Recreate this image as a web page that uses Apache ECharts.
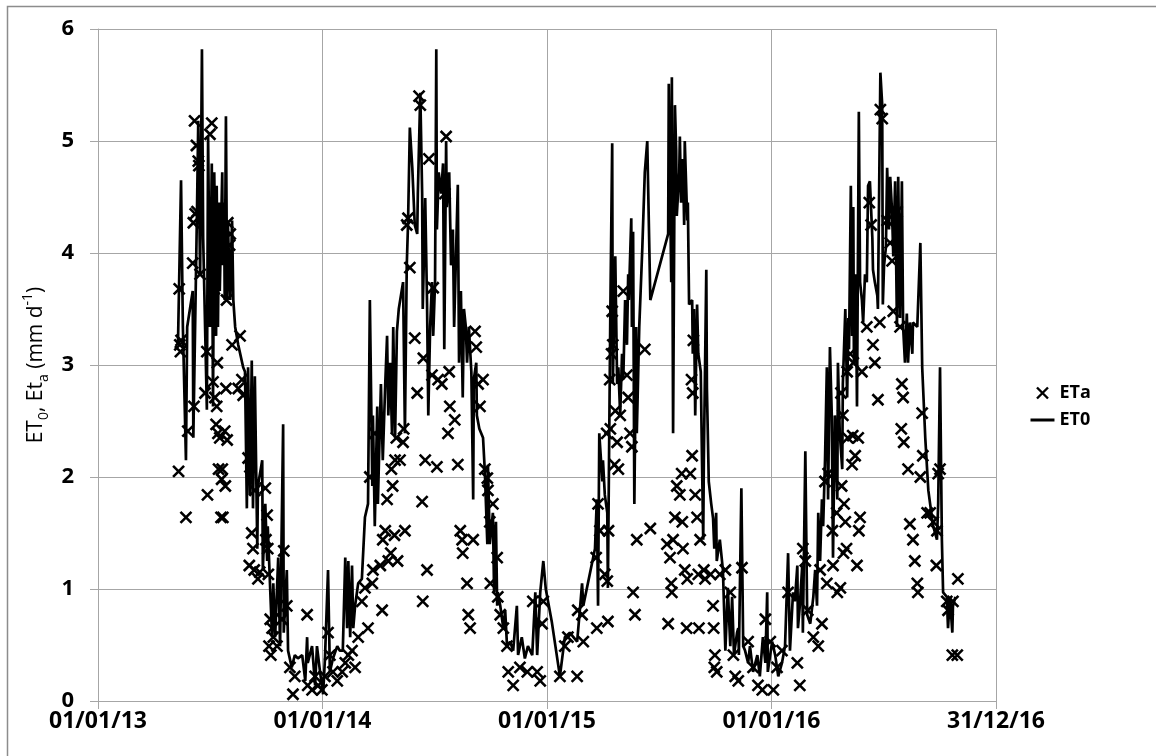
<!DOCTYPE html>
<html>
<head>
<meta charset="utf-8">
<script src="https://cdn.jsdelivr.net/npm/echarts@6/dist/echarts.min.js"></script>
<style>
  html, body { margin: 0; padding: 0; background: #fff; }
  #chart { width: 1156px; height: 756px; }
</style>
</head>
<body>
<div id="chart"></div>
<script>
// x values are days counted from 01/01/13
const xTicks = [0, 365, 730, 1095, 1460];
const yTicks = [0, 1, 2, 3, 4, 5, 6];

// ET0 (line)
const et0Days = [
  130,135,138,143,145,154,155,161,163,166,169,171,177,179,182,185,187,189,192,193,195,197,198,202,203,205,206,208,210,211,215,218,220,223,228,236,239,242,244,247,250,252,255,259,260,
  267,268,272,275,276,283,285,288,293,296,301,302,307,309,315,320,325,332,337,340,341,348,353,356,361,366,369,374,377,382,389,393,398,402,405,407,410,413,415,418,423,429,434,439,
  442,446,447,450,454,455,460,463,467,470,472,475,478,480,483,486,489,496,499,502,504,507,511,515,519,520,524,527,528,532,535,537,540,543,545,548,550,551,554,558,561,563,566,567,
  571,574,577,579,582,585,587,590,593,595,598,600,603,607,610,611,615,616,620,626,629,633,634,637,642,644,647,649,650,654,659,662,665,670,675,681,683,689,694,699,706,711,714,719,724,728,738,
  751,759,767,779,784,787,789,808,811,813,815,820,821,824,828,829,833,836,837,841,844,846,849,852,854,857,860,862,863,867,868,870,872,875,876,880,885,889,893,898,
  927,928,932,933,935,938,940,941,945,946,948,951,953,954,958,959,961,966,967,969,971,974,976,980,982,984,985,989,990,993,997,1000,1002,1005,1006,1011,1016,1020,1024,1028,1031,1034,1039,1041,1042,1046,
  1049,1052,1057,1060,1065,1072,1076,1081,1085,1088,1089,1096,1101,1106,1112,1117,1122,1125,1130,1133,1137,1138,1141,1145,1146,1150,1153,1158,1163,1166,1169,1171,1174,1177,1179,1182,1185,1187,1190,
  1193,1195,1198,1202,1203,1206,1210,1211,1215,1218,1220,1221,1224,1226,1228,1229,1232,1234,1237,1239,1242,1244,1247,1250,1252,1255,1259,1260,1263,1267,1268,1272,1275,1276,1278,1281,1283,1286,1288,
  1291,1293,1296,1299,1301,1304,1307,1309,1312,1315,1317,1320,1324,1325,1332,1337,1340,1345,1350,1356,1358,1364,1366,1369,1372,1374,1380,1382,1385,1389,1390,1394
];
const et0Values = [
  3.18,4.65,3.34,2.15,3.34,3.66,2.35,4.4,5.18,3.8,5.82,4.13,2.6,5.04,3.34,4.8,2.63,4.72,3.26,4.6,3.34,4.45,3.66,4.72,3.89,4.45,3.58,5.22,3.58,4.29,3.58,4.29,3.58,3.34,3.18,2.98,2.94,1.72,2.98,1.84,3.04,1.72,2.9,1.36,1.92,
  2.15,1.17,1.76,1.25,1.56,0.57,1.05,0.57,1.28,0.49,2.47,0.61,1.17,0.45,0.30,0.41,0.38,0.41,0.18,0.57,0.34,0.49,0.14,0.49,0.26,0.06,0.38,1.17,0.26,0.38,0.49,0.45,0.45,1.28,0.65,1.25,0.57,1.21,0.65,0.85,1.05,1.09,1.64,1.76,
  3.58,1.92,2.55,1.56,2.63,1.76,2.83,2.15,2.83,3.26,2.55,3.02,2.39,3.34,2.35,3.30,3.5,3.74,2.39,3.89,4.25,5.12,4.76,4.25,4.17,4.53,5.43,4.53,3.5,4.49,3.54,2.55,3.34,3.74,3.26,3.74,5.82,4.21,4.72,4.53,4.80,3.14,5.0,4.41,
  4.72,3.89,4.21,3.34,3.97,4.61,3.02,3.66,2.71,3.5,3.34,3.02,3.34,2.94,1.80,2.87,3.02,2.55,2.43,2.35,2.04,1.40,2.11,1.40,1.68,0.97,1.60,0.85,0.97,0.85,0.65,0.81,0.49,0.53,0.45,0.85,0.41,0.57,0.38,0.49,0.41,0.97,0.41,0.97,1.25,1.0,0.7,
  0.22,0.57,0.61,0.53,0.85,1.05,0.85,1.36,1.80,0.85,2.39,1.96,2.15,1.84,1.68,1.01,3.5,4.98,2.83,3.97,2.83,2.98,2.55,3.1,2.87,3.58,3.18,3.81,3.58,4.31,3.34,4.19,1.76,3.34,2.39,3.34,4.05,4.72,5.0,3.58,
  4.17,5.51,3.74,5.57,2.39,5.32,4.92,4.33,4.72,5.04,4.45,4.84,4.25,5.0,4.29,4.45,3.54,3.58,3.1,3.5,2.55,3.54,3.1,2.94,2.15,1.44,2.15,3.85,2.79,1.96,1.76,1.63,1.36,1.68,1.25,1.44,1.17,0.45,1.01,0.49,0.93,0.41,0.61,0.65,0.41,1.90,
  0.49,0.45,0.34,0.49,0.26,0.41,0.22,0.57,0.34,0.97,0.26,0.53,0.41,0.22,0.34,0.49,1.32,0.45,0.97,0.89,1.21,0.65,0.85,1.21,0.61,2.23,0.77,0.69,0.93,1.17,0.85,1.68,1.25,1.80,1.56,2.15,2.98,1.80,3.16,
  2.55,1.28,2.55,1.80,3.02,2.39,2.07,2.83,3.5,2.71,3.42,3.14,4.60,3.26,4.41,3.02,3.81,2.63,5.26,3.74,3.58,3.38,3.81,3.74,4.60,4.64,4.13,3.85,3.74,3.62,3.5,5.61,5.32,3.54,3.89,4.05,4.76,4.21,4.68,
  4.37,3.97,4.64,3.34,4.68,3.42,4.64,3.34,3.02,3.46,3.02,3.38,3.10,3.38,3.34,4.09,2.98,2.35,1.88,1.63,1.56,1.44,1.76,2.98,1.44,0.97,0.93,0.65,0.93,0.61,0.85,0.93
];

// ETa (crosses)
const etaDays = [
  132,131,133,134,135,143,146,154,155,156,157,158,160,161,163,164,166,174,177,178,182,185,187,189,190,192,193,194,195,196,198,200,201,202,203,206,207,208,209,210,211,214,215,218,228,231,234,236,244,246,247,250,252,254,255,260,263,
  272,273,275,276,277,278,280,281,283,285,291,299,302,307,312,317,320,340,341,348,353,358,364,
  369,374,377,382,389,397,402,407,413,418,423,429,434,439,442,446,447,450,459,462,463,467,470,472,476,477,479,482,483,485,487,491,496,497,499,502,504,507,515,519,522,524,527,528,529,532,535,538,543,545,
  551,553,559,564,566,569,571,572,580,585,589,592,593,600,602,605,610,613,615,618,621,626,629,633,634,637,638,642,649,650,654,659,665,667,675,686,698,707,714,719,722,724,
  751,759,764,779,780,787,789,810,811,813,816,824,827,828,829,830,832,833,835,836,837,840,841,844,846,849,854,860,862,865,868,870,873,876,889,898,925,927,930,932,933,935,938,941,946,949,950,951,954,957,958,
  963,965,966,967,968,971,974,976,977,979,985,987,996,1000,1001,1002,1003,1006,1011,1020,1028,1033,1036,1041,1047,1057,1065,1073,1080,1085,1093,
  1098,1104,1112,1122,1137,1141,1146,1150,1154,1163,1171,1174,1177,1182,1185,1187,1194,1195,1201,1202,1207,1208,1209,1211,1212,1213,1215,1217,1218,1219,1223,1226,1227,1228,1231,1234,1236,1237,1239,1242,
  1250,1254,1257,1260,1263,1268,1271,1272,1275,1283,1288,1291,1293,1299,1304,1306,1307,1309,1310,1317,1320,1325,1328,1332,1333,1337,1340,1341,1348,1353,1358,1363,1364,1366,1369,1380,1382,1389,1390,1397,1398
];
const etaValues = [
  3.68,2.05,3.18,3.12,3.22,1.64,2.41,3.91,4.27,2.63,5.18,4.35,4.96,4.37,4.82,4.78,3.81,2.75,3.12,1.84,5.06,5.16,2.85,3.68,2.71,2.47,2.63,3.02,2.39,2.07,2.35,1.64,1.98,2.07,1.64,2.41,1.92,2.79,3.58,2.33,4.27,4.07,4.17,3.18,2.79,3.26,2.87,2.73,2.17,1.21,2.09,1.50,1.36,1.17,1.88,1.09,1.15,
  1.90,1.44,1.66,1.36,1.13,0.49,0.73,0.41,0.65,0.57,0.49,0.73,1.34,0.85,0.30,0.06,0.22,0.77,0.14,0.10,0.22,0.14,0.10,
  0.22,0.61,0.41,0.26,0.18,0.26,0.34,0.41,0.45,0.30,0.57,0.89,1.01,0.65,2.0,1.05,1.17,2.39,1.21,0.81,1.44,1.52,1.80,1.25,1.32,2.07,1.92,1.48,2.15,2.35,1.25,2.15,2.31,2.43,1.52,4.25,4.31,3.87,3.24,2.75,5.40,5.32,1.78,0.89,3.06,2.15,1.17,4.84,2.91,3.69,
  2.09,2.87,2.83,4.53,5.04,2.39,2.94,2.63,2.51,2.11,1.52,1.44,1.32,1.05,0.77,0.65,1.44,3.30,3.16,2.83,2.63,2.87,2.07,1.99,1.88,1.60,1.05,1.76,1.28,0.93,0.77,0.65,0.49,0.26,0.14,0.30,0.26,0.89,0.26,0.18,0.69,0.89,
  0.22,0.49,0.57,0.22,0.81,0.77,0.53,1.28,0.65,1.76,1.52,1.13,2.39,1.07,0.71,1.52,2.87,2.43,3.10,3.48,3.18,2.11,2.59,2.31,2.07,2.55,3.66,2.91,2.71,2.39,2.27,0.97,0.77,1.44,3.14,1.54,1.40,0.69,1.28,1.05,0.97,1.44,1.64,1.92,1.84,2.03,1.60,1.36,1.17,0.65,1.09,
  2.03,2.87,2.19,2.75,3.22,1.84,1.64,1.13,0.65,1.44,1.17,1.09,1.13,0.85,0.65,0.30,0.41,0.26,1.13,1.17,0.97,0.41,0.22,0.18,1.19,0.53,0.30,0.14,0.10,0.73,0.53,
  0.10,0.30,0.45,0.97,0.34,0.14,1.36,1.25,0.81,0.57,0.49,1.17,0.69,1.96,1.05,2.03,1.52,1.21,1.68,0.97,1.01,2.75,1.92,2.55,1.32,1.76,1.60,1.36,2.94,2.35,3.10,2.11,2.37,3.02,2.19,1.21,2.35,1.52,1.64,2.94,
  3.34,4.45,4.25,3.18,3.02,2.69,3.38,5.28,5.20,4.29,4.09,3.93,3.48,4.37,3.34,2.43,2.83,2.71,2.31,2.07,1.58,1.44,1.25,1.05,0.97,2.0,2.57,2.19,1.68,1.68,1.60,1.21,1.52,2.03,2.07,0.89,0.81,0.41,0.89,0.41,1.09
];

const cross = 'path://M0,0L10,10M10,0L0,10';
// horizontal dash with invisible corner points so the legend keeps it thin
const dash = 'path://M0,0L0,0.01M0,5.5L24,5.5M24,11L24,11.01';
const gridGray = '#a6a6a6';
const fontName = 'Open Sans';

function dayLabel(d) {
  const t = new Date(Date.UTC(2013, 0, 1) + d * 86400000);
  const p = n => String(n).padStart(2, '0');
  return p(t.getUTCDate()) + '/' + p(t.getUTCMonth() + 1) + '/' + p(t.getUTCFullYear() % 100);
}

const chart = echarts.init(document.getElementById('chart'));
chart.setOption({
  animation: false,
  backgroundColor: '#fff',
  graphic: [{
    type: 'rect',
    shape: { x: 7.5, y: 6.5, width: 1200, height: 800 },
    style: { fill: 'none', stroke: '#8c8c8c', lineWidth: 1.5 },
    silent: true
  }],
  grid: { left: 98, right: 160, top: 29, bottom: 55 },
  legend: {
    orient: 'vertical',
    left: 1023,
    top: 379,
    itemGap: 9,
    itemWidth: 24,
    itemHeight: 11,
    textStyle: { fontFamily: fontName, fontWeight: 'bold', fontSize: 18, color: '#000' },
    data: [
      { name: 'ETa', icon: cross, itemStyle: { color: '#000', borderColor: '#000', borderWidth: 2.4, opacity: 1 } },
      { name: 'ET0', icon: dash, itemStyle: { color: 'none', borderColor: '#000', borderWidth: 2.8, opacity: 1 } }
    ]
  },
  xAxis: {
    type: 'value',
    min: xTicks[0],
    max: xTicks[xTicks.length - 1],
    interval: 365,
    axisLine: { show: true, lineStyle: { color: gridGray, width: 1 } },
    axisTick: { show: true, length: 8, lineStyle: { color: gridGray } },
    splitLine: { show: true, lineStyle: { color: gridGray, width: 1 } },
    axisLabel: {
      margin: 9,
      showMinLabel: true,
      showMaxLabel: true,
      fontFamily: fontName, fontWeight: 'bold', fontSize: 23, color: '#000',
      formatter: v => dayLabel(v)
    }
  },
  yAxis: {
    type: 'value',
    min: yTicks[0],
    max: yTicks[yTicks.length - 1],
    interval: 1,
    axisLine: { show: true, lineStyle: { color: gridGray, width: 1 } },
    axisTick: { show: true, length: 8, lineStyle: { color: gridGray } },
    splitLine: { show: true, lineStyle: { color: gridGray, width: 1 } },
    axisLabel: { margin: 24, fontFamily: fontName, fontWeight: 'bold', fontSize: 22, color: '#000' },
    name: '{n|ET}{s|0}{n|, Et}{s|a}{n| (mm d}{p|-1}{n|)}',
    nameLocation: 'middle',
    nameGap: 44,
    nameTextStyle: {
      color: '#000',
      rich: {
        n: { fontFamily: fontName, fontSize: 21, color: '#000', lineHeight: 30, verticalAlign: 'middle' },
        s: { fontFamily: fontName, fontSize: 14, color: '#000', lineHeight: 30, verticalAlign: 'bottom' },
        p: { fontFamily: fontName, fontSize: 14, color: '#000', lineHeight: 30, verticalAlign: 'top' }
      }
    }
  },
  series: [
    {
      name: 'ETa',
      type: 'scatter',
      symbol: cross,
      symbolSize: 11,
      symbolKeepAspect: true,
      itemStyle: { color: '#000', borderColor: '#000', borderWidth: 2.6, opacity: 1 },
      data: etaDays.map((d, i) => [d, etaValues[i]])
    },
    {
      name: 'ET0',
      type: 'line',
      symbol: 'none',
      showSymbol: false,
      lineStyle: { color: '#000', width: 2.7 },
      itemStyle: { color: '#000' },
      data: et0Days.map((d, i) => [d, et0Values[i]])
    }
  ]
});
</script>
</body>
</html>
